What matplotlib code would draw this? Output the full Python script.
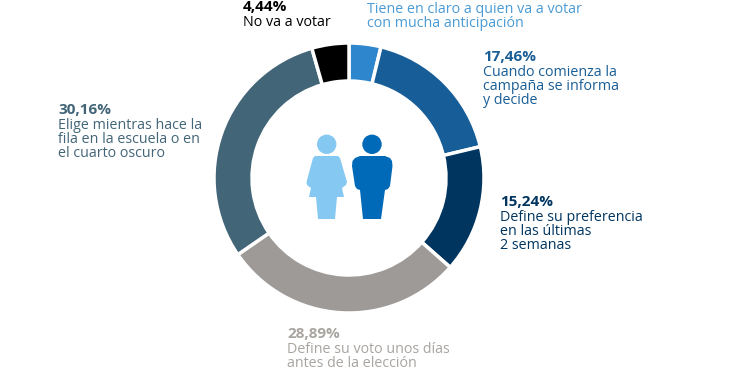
import matplotlib
matplotlib.use('Agg')
import matplotlib.pyplot as plt
from matplotlib.patches import Circle, Polygon

plt.rcParams['font.family'] = ['Open Sans', 'DejaVu Sans']

values = [3.81, 17.46, 15.24, 28.89, 30.16, 4.44]
pct_labels = ['3,81%', '17,46%', '15,24%', '28,89%', '30,16%', '4,44%']
descriptions = [
    'Tiene en claro a quien va a votar\ncon mucha anticipación',
    'Cuando comienza la\ncampaña se informa\ny decide',
    'Define su preferencia\nen las últimas\n2 semanas',
    'Define su voto unos días\nantes de la elección',
    'Elige mientras hace la\nfila en la escuela o en\nel cuarto oscuro',
    'No va a votar',
]
slice_colors = ['#2E86CC', '#175D98', '#003560', '#9E9A98', '#426578', '#000000']
text_colors = ['#4A9BD5', '#1A5E96', '#003560', '#A8A4A0', '#426578', '#000000']
# top left corner of each label block, in pixels from the top left of the picture
label_x = [367, 483, 500, 287, 58, 243]
label_y = [-13, 50, 195, 327, 103, 0]

fig = plt.figure(figsize=(7.5, 3.75), dpi=100)
ax = fig.add_axes([0, 0, 1, 1])

# y axis is flipped here, so counterclock=True runs clockwise on screen
ax.pie(values, colors=slice_colors, startangle=-90, counterclock=True,
       center=(349, 178), radius=135, frame=True,
       wedgeprops={'width': 38, 'edgecolor': 'white', 'linewidth': 2.5})
ax.set_xlim(0, 750)
ax.set_ylim(375, 0)
ax.set_aspect('equal')
ax.axis('off')

for x, y, pct, desc, col in zip(label_x, label_y, pct_labels, descriptions, text_colors):
    ax.text(x, y, pct, color=col, fontsize=11, fontweight='bold', va='top', ha='left')
    ax.text(x, y + 15, desc, color=col, fontsize=10.3, va='top', ha='left', linespacing=0.93)

# people icons
woman = '#85C8F2'
man = '#0069B8'
ax.add_patch(Circle((326.7, 144.3), 9.7, color=woman, lw=0))
ax.add_patch(Polygon([(315, 156), (338, 156), (340, 158), (347, 182), (346, 185), (342, 188),
                      (344, 197), (337, 197), (335, 219), (318, 219), (316, 197), (309, 197),
                      (311, 188), (307, 185), (306.5, 182), (313, 158)],
                     closed=True, color=woman, lw=0))
ax.add_patch(Circle((372, 144.3), 9.7, color=man, lw=0))
ax.add_patch(Polygon([(360, 156), (385, 156), (390, 158), (392, 161), (392.5, 166), (390, 186),
                      (388, 189), (385, 190), (381, 219), (363, 219), (360, 190), (357, 189),
                      (355, 186), (352, 166), (352.5, 161), (355, 158)],
                     closed=True, color=man, lw=0))

fig.savefig('out.png', dpi=100)
